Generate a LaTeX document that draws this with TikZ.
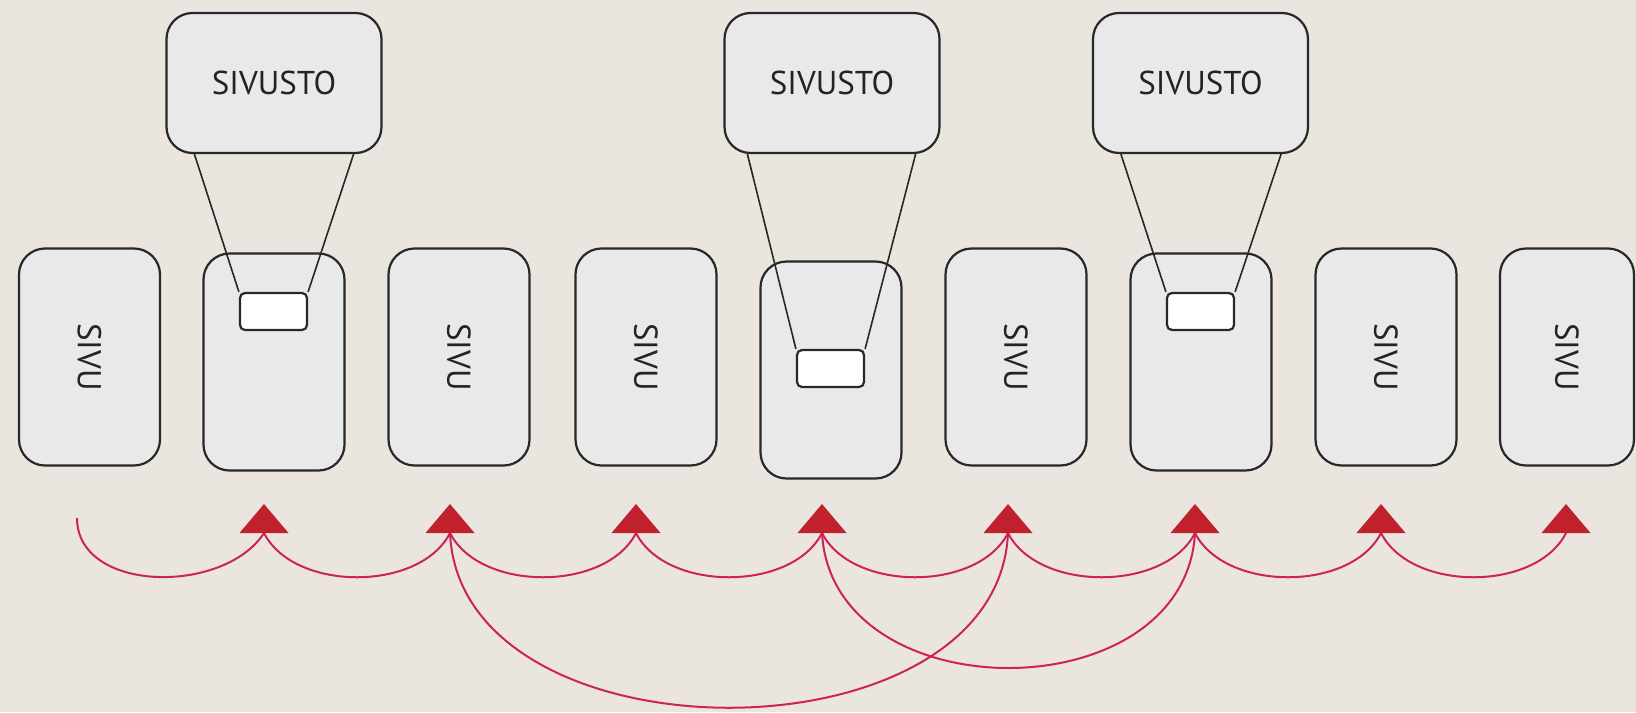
\documentclass[tikz,border=0pt]{standalone}
\usepackage{fontspec}
\usepackage{graphicx}
\setmainfont{PT Sans}
\usetikzlibrary{calc}
\definecolor{bg}{RGB}{234,230,223}
\definecolor{boxfill}{RGB}{232,233,232}
\definecolor{boxline}{RGB}{40,40,40}
\definecolor{textc}{RGB}{35,35,35}
\definecolor{tri}{RGB}{193,32,45}
\definecolor{curve}{RGB}{205,35,85}
\begin{document}
\begin{tikzpicture}[x=0.5pt,y=-0.5pt,
  page/.style={draw=boxline, line width=1.1pt, fill=boxfill, rounded corners=13pt,
    minimum width=70.5pt, minimum height=108.5pt, inner sep=0pt, text=textc,
    font=\fontsize{16.5}{18}\selectfont},
  site/.style={page, minimum width=107.5pt, minimum height=70pt},
  hole/.style={draw=boxline, line width=1.1pt, fill=white, rounded corners=2.5pt,
    minimum width=33.5pt, minimum height=18.5pt, inner sep=0pt},
  zoomline/.style={draw=boxline, line width=0.8pt},
  link/.style={draw=curve, line width=1pt},
  tip/.style={fill=tri}]

\fill[bg] (0,0) rectangle (1636,712);
\useasboundingbox (0,0) rectangle (1636,712);

% pages
\node[page] (p1) at (89.5,357) {\rotatebox{-90}{SIVU}};
\node[page] (p2) at (274,362) {};
\node[page] (p3) at (459,357) {\rotatebox{-90}{SIVU}};
\node[page] (p4) at (646,357) {\rotatebox{-90}{SIVU}};
\node[page] (p5) at (831,370) {};
\node[page] (p6) at (1016,357) {\rotatebox{-90}{SIVU}};
\node[page] (p7) at (1201,362) {};
\node[page] (p8) at (1386,357) {\rotatebox{-90}{SIVU}};
\node[page, minimum width=67pt] (p9) at (1567,357) {\rotatebox{-90}{SIVU}};

% sites
\node[site] (s1) at (274,83) {SIVUSTO};
\node[site] (s2) at (832,83) {SIVUSTO};
\node[site] (s3) at (1200.5,83) {SIVUSTO};

% holes
\node[hole] (h1) at (273.5,311.5) {};
\node[hole] (h2) at (830.5,368.5) {};
\node[hole] (h3) at (1200.5,311.5) {};

% zoom lines
\draw[zoomline] ($(s1.south west)+(29,0)$) -- (h1.north west);
\draw[zoomline] ($(s1.south east)+(-29,0)$) -- (h1.north east);
\draw[zoomline] ($(s2.south west)+(24,0)$) -- (h2.north west);
\draw[zoomline] ($(s2.south east)+(-25,0)$) -- (h2.north east);
\draw[zoomline] ($(s3.south west)+(29,0)$) -- (h3.north west);
\draw[zoomline] ($(s3.south east)+(-28,0)$) -- (h3.north east);

% arrow tips
\coordinate (t0) at (77,518);
\coordinate (t1) at (264,533);
\coordinate (t2) at (450,533);
\coordinate (t3) at (636,533);
\coordinate (t4) at (822,533);
\coordinate (t5) at (1008,533);
\coordinate (t6) at (1195,533);
\coordinate (t7) at (1381,533);
\coordinate (t8) at (1566,533);

% links
\draw[link] (t0) .. controls +(0,75) and +(-40,62) .. (t1);
\draw[link] (t1) .. controls +(30,59) and +(-30,59) .. (t2);
\draw[link] (t2) .. controls +(30,59) and +(-30,59) .. (t3);
\draw[link] (t3) .. controls +(30,59) and +(-30,59) .. (t4);
\draw[link] (t4) .. controls +(30,59) and +(-30,59) .. (t5);
\draw[link] (t5) .. controls +(30,59) and +(-30,59) .. (t6);
\draw[link] (t6) .. controls +(30,59) and +(-30,59) .. (t7);
\draw[link] (t7) .. controls +(30,59) and +(-30,59) .. (t8);
\draw[link] (t2) .. controls +(10,233) and +(-10,233) .. (t5);
\draw[link] (t4) .. controls +(10,180) and +(-10,180) .. (t6);

\foreach \t in {t1,t2,t3,t4,t5,t6,t7,t8}
  \fill[tip] (\t) ++(-24.5,0) -- ++(24.5,-29) -- ++(24.5,29) -- cycle;
\end{tikzpicture}
\end{document}
